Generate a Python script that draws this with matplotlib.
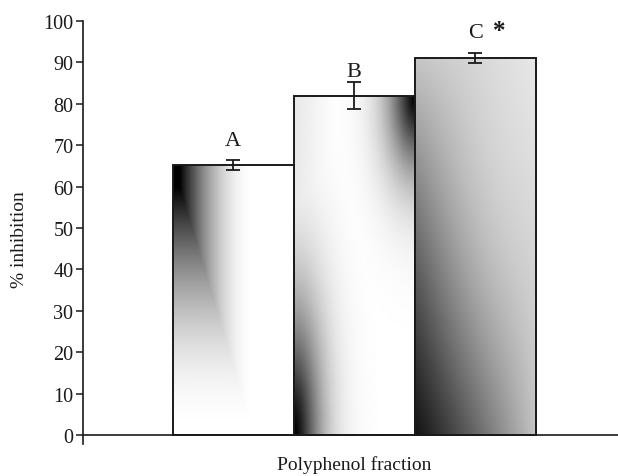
import numpy as np
import matplotlib
matplotlib.use('Agg')
import matplotlib.pyplot as plt

# ---- data ----
categories = ['A', 'B', 'C']
values = [65.2, 82.0, 91.0]
errors = [1.2, 3.2, 1.2]
label_y = [70.0, 86.8, 96.1]
y_ticks = list(range(0, 101, 10))
xlabel = 'Polyphenol fraction'
ylabel = '% inhibition'

plt.rcParams['font.family'] = ['Liberation Serif', 'DejaVu Serif']

FW, FH = 618, 477
fig = plt.figure(figsize=(FW / 100, FH / 100), dpi=100)
ax = fig.add_axes([83 / FW, (FH - 445) / FH, (618 - 83) / FW, (445 - 22) / FH])

x = np.arange(len(values))
bars = ax.bar(x, values, width=1.0, facecolor='none', edgecolor='#1a1a1a',
              linewidth=1.4, zorder=3)

n = 300
u, v = np.meshgrid(np.linspace(0, 1, n), np.linspace(0, 1, n))  # v: 0 top -> 1 bottom


def grad1():
    t = np.clip(np.maximum(1.5 * u, v), 0, 1)
    tp = np.clip((t - 0.08) / 0.92, 0, 1)
    return 1 - (1 - tp) ** 2


def grad2():
    r_tr = np.sqrt((1 - u) ** 2 + v ** 2)
    r_bl = np.sqrt(u ** 2 + ((1 - v) / 1.7) ** 2)
    d_tr = np.exp(-(r_tr / 0.22) ** 1.5)
    d_bl = np.exp(-(r_bl / 0.22) ** 1.5)
    extra = 0.09 * np.clip(1 - u / 0.35, 0, 1)
    return 1 - np.maximum.reduce([d_tr, d_bl, extra])


def grad3():
    vb = 1 - v
    a = 0.81 * u ** 1.1
    b = 0.81 * vb ** 1.1
    h = 1 - (1 - a) * (1 - b)
    g = 0.08 + 0.86 * h + 0.1 * np.sin(np.pi * u) * np.sin(np.pi * vb)
    return np.clip(g, 0, 1)


grads = [grad1(), grad2(), grad3()]
for b, g in zip(bars, grads):
    x0, y0 = b.get_x(), b.get_y()
    w, h = b.get_width(), b.get_height()
    im = ax.imshow(g, cmap='gray', vmin=0, vmax=1, extent=[x0, x0 + w, y0, y0 + h],
                   origin='upper', aspect='auto', interpolation='bilinear', zorder=2)
    im.set_clip_path(b)

ax.errorbar(x, values, yerr=errors, fmt='none', ecolor='#1a1a1a', elinewidth=1.3,
            capsize=5, capthick=1.3, zorder=4)

for xi, lab, ly in zip(x, categories, label_y):
    ax.text(xi, ly, lab, ha='center', va='baseline', fontsize=16, color='#1a1a1a')
ax.text(x[-1] + 0.2, label_y[-1], '*', ha='center', va='baseline', fontsize=18,
        fontweight='bold', color='#1a1a1a')

ax.set_xlim(-1.24, 3.18)
ax.set_ylim(-2.2, 100)
ax.set_yticks(y_ticks)
ax.set_xticks([])
ax.tick_params(axis='y', direction='out', length=5, width=1.1, labelsize=14.5,
               pad=2, colors='#1a1a1a')
for s in ['top', 'right', 'bottom']:
    ax.spines[s].set_visible(False)
ax.spines['left'].set_linewidth(1.2)
ax.spines['left'].set_color('#1a1a1a')
ax.axhline(0, color='#1a1a1a', linewidth=1.2, zorder=5)
ax.set_facecolor('none')

fig.text(20 / FW, 1 - 240 / FH, ylabel, rotation=90, ha='center', va='center',
         fontsize=14, color='#1a1a1a')
fig.text(354 / FW, 1 - 465 / FH, xlabel, ha='center', va='center', fontsize=14,
         color='#1a1a1a')

fig.savefig('out.png', dpi=100)
